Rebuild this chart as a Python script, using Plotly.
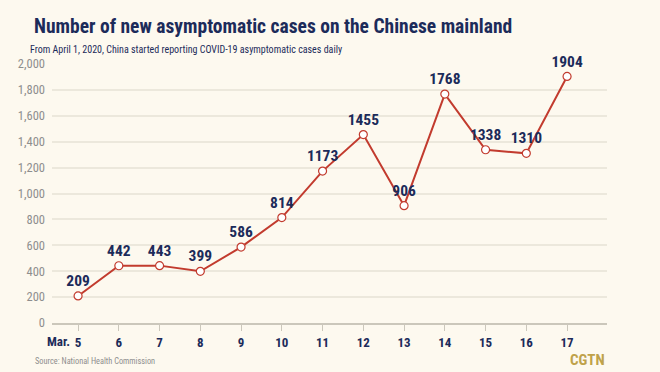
import plotly.graph_objects as go

days = [5, 6, 7, 8, 9, 10, 11, 12, 13, 14, 15, 16, 17]
tick_labels = ["5", "6", "7", "8", "9", "10", "11", "12", "13", "14", "15", "16", "17"]
month_label = "Mar."
cases = [209, 442, 443, 399, 586, 814, 1173, 1455, 906, 1768, 1338, 1310, 1904]
y_ticks = [0, 200, 400, 600, 800, 1000, 1200, 1400, 1600, 1800, 2000]

COND = "Roboto Condensed, Open Sans Condensed, Roboto, sans-serif"
NAVY = "#1c2b5a"
RED = "#c23b2e"
BG = "#fdf9ef"

fig = go.Figure()
fig.add_trace(go.Scatter(
    x=days, y=cases,
    mode="lines+markers+text",
    line=dict(color=RED, width=2),
    marker=dict(size=8, color="white", line=dict(color=RED, width=1.2)),
    text=[str(v) for v in cases],
    textposition="top center",
    textfont=dict(family=COND, size=15.5, color=NAVY, weight="bold"),
    cliponaxis=False,
    hoverinfo="skip",
))

fig.update_layout(
    width=660, height=372,
    paper_bgcolor=BG, plot_bgcolor=BG,
    margin=dict(l=52, r=53, t=64, b=49),
    showlegend=False,
    xaxis=dict(
        range=[4.36, 17.98],
        tickmode="array", tickvals=days, ticktext=tick_labels,
        tickfont=dict(family=COND, size=13, color=NAVY, weight="bold"),
        showgrid=False, zeroline=False,
        showline=True, linecolor="#cbc7bb", linewidth=2,
        ticks="outside", ticklen=6, tickcolor="#cbc7bb", tickwidth=1,
        fixedrange=True,
    ),
    yaxis=dict(
        range=[0, 2000],
        tickmode="array", tickvals=y_ticks,
        tickformat=",",
        tickfont=dict(family=COND, size=12.5, color="#8e8e8e"),
        showgrid=True, gridcolor="#ece8dc", gridwidth=1.5,
        zeroline=False, showline=False,
        ticks="", ticklabelstandoff=6,
        fixedrange=True,
    ),
)

fig.add_annotation(
    text="<b>Number of new asymptomatic cases on the Chinese mainland</b>",
    xref="paper", yref="paper", x=-0.036, y=1.0, xanchor="left", yanchor="bottom",
    yshift=24, showarrow=False,
    font=dict(family=COND, size=19.5, color=NAVY),
)
fig.add_annotation(
    text="From April 1, 2020, China started reporting COVID-19 asymptomatic cases daily",
    xref="paper", yref="paper", x=-0.043, y=1.0, xanchor="left", yanchor="bottom",
    yshift=7, showarrow=False,
    font=dict(family=COND, size=10, color=NAVY),
)
fig.add_annotation(
    text="<b>" + month_label + "</b>",
    xref="x", yref="paper", x=days[0], y=0, xanchor="right", yanchor="top",
    xshift=-6, yshift=-9, showarrow=False,
    font=dict(family=COND, size=13, color=NAVY),
)
fig.add_annotation(
    text="Source: National Health Commission",
    xref="paper", yref="paper", x=-0.034, y=0, xanchor="left", yanchor="top",
    yshift=-31, showarrow=False,
    font=dict(family=COND, size=8.3, color="#8e8e8e"),
)
fig.add_annotation(
    text="<b>CGTN</b>",
    xref="paper", yref="paper", x=1.0, y=0, xanchor="right", yanchor="top",
    yshift=-26, showarrow=False,
    font=dict(family=COND, size=15, color="#bfa24a"),
)

fig.write_html(
    "out.html",
    config={"displayModeBar": False},
    post_script="document.body.style.margin='0';document.body.style.background='#fdf9ef';",
)
